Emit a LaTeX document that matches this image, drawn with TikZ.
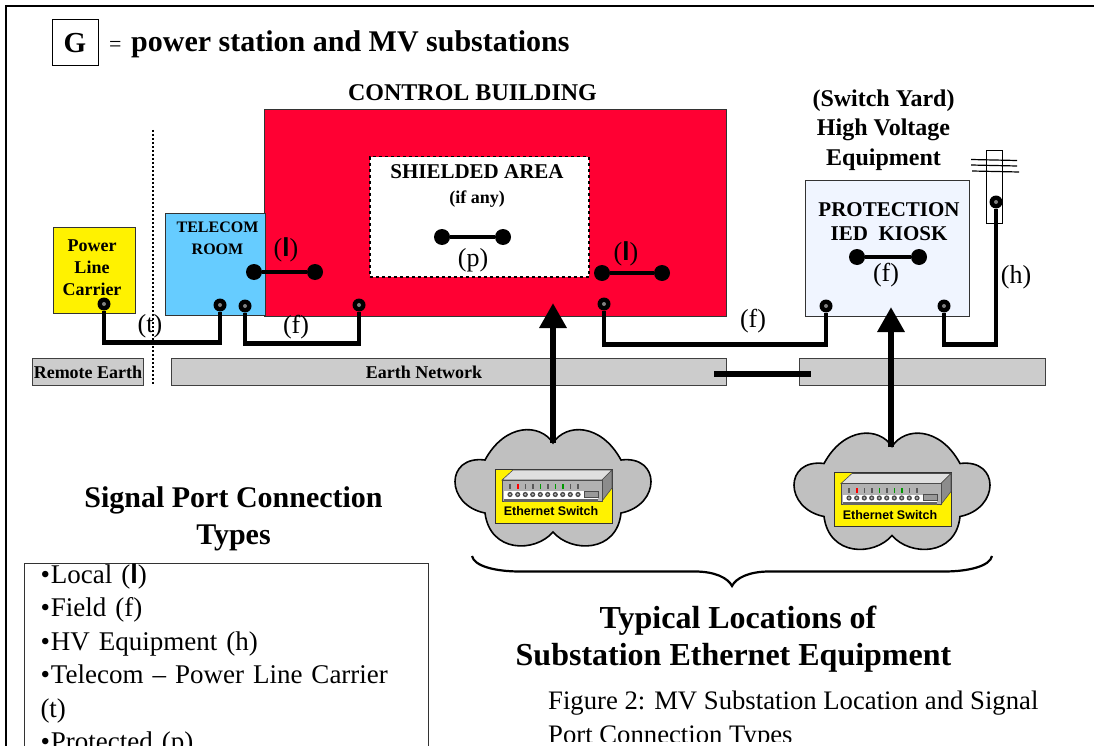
\documentclass[tikz,border=0pt]{standalone}
\usepackage{fontspec}
\setmainfont{Liberation Serif}
\setsansfont{Liberation Sans}
\usetikzlibrary{arrows.meta}
\newcommand\fsz[2]{\fontsize{#1}{#2}\selectfont}
\newcommand\boldell{{\sffamily\bfseries l}}
\definecolor{redroom}{HTML}{FF0033}
\definecolor{telecomblue}{HTML}{66CCFF}
\definecolor{kioskblue}{HTML}{F0F5FF}
\definecolor{earthgrey}{HTML}{CCCCCC}
\definecolor{cloudgrey}{HTML}{C0C0C0}
\tikzset{
  frameline/.style={draw=black,line width=2pt},
  room/.style={draw=black!80,line width=1.2pt,anchor=north west,inner sep=0pt},
  earthbar/.style={draw=black!75,fill=earthgrey,line width=1pt},
  wire/.style={line width=4.5pt,line join=miter},
  term/.style={circle,fill=black,draw=none,minimum size=13pt,inner sep=0pt,
    path picture={\fill[gray] (path picture bounding box.center) circle (2pt);}},
  dotend/.style={circle,fill=black,draw=none,minimum size=16pt,inner sep=0pt},
  bigarrow/.style={line width=6.5pt,-{Triangle[length=25pt,width=26pt]}},
  conlabel/.style={anchor=base,inner sep=0pt,font=\fsz{26}{30}},
  boldlabel/.style={anchor=base,inner sep=0pt,font=\bfseries\fsz{#1}{#1}},
}
\newcommand\cloudswitch[3]{%
\begin{scope}[shift={(#1,#2)}]
  \draw[fill=cloudgrey,line width=1.6pt,draw=black] (553,443)
    .. controls (540,423) and (505,423) .. (485,460)
    .. controls (445,455) and (445,505) .. (485,513)
    .. controls (490,553) and (535,553) .. (553,532)
    .. controls (571,553) and (617,553) .. (621,513)
    .. controls (661,505) and (661,455) .. (621,460)
    .. controls (601,423) and (566,423) .. (553,443) -- cycle;
  \fill[yellow,draw=black!80,line width=1pt] (495,469) rectangle (612,523);
  \fill[black!12,draw=black!70,line width=.6pt] (502,480) -- (513,470) -- (612,470) -- (602,480) -- cycle;
  \fill[black!45,draw=black!70,line width=.6pt] (602,480) -- (612,470) -- (612,488) -- (602,501) -- cycle;
  \fill[black!30,draw=black!70,line width=.6pt] (502,480) rectangle (602,501);
  \fill[white] (504,491) rectangle (598,498.5);
  \fill[black!60] (504,498.5) rectangle (598,501.5);
  \fill[black!40,draw=black!70,line width=.5pt] (584,491) rectangle (598,497);
  \foreach \px/\ledc in {510/black!65,517.7/red,525.3/black!65,532.7/black!65,540.3/green!60!black,547.7/black!65,555.3/green!60!black,562.7/green!60!black,570.3/black!65,578/black!65}{
    \fill[\ledc] (\px-.8,484) rectangle (\px+.8,489);
    \fill[black!70] (\px,494.5) circle (2.6pt);
    \fill[black!25] (\px,494.5) circle (1.1pt);
  }
  \node[inner sep=0pt,anchor=base,font=\sffamily\bfseries\fsz{12.5}{14}] (#3) at (551,515.5) {Ethernet Switch};
\end{scope}}
\begin{document}
\begin{tikzpicture}[x=1pt,y=-1pt]
\useasboundingbox (0,0) rectangle (1094,746);
% frame
\draw[frameline] (1094,6) -- (6,6) -- (6,746);
% title
\node[draw=black,line width=1pt,minimum width=46pt,minimum height=46pt,inner sep=0pt,font=\bfseries\fsz{29}{30}] (gbox) at (75,43) {G};
\node[anchor=base west,inner sep=0pt,font=\fsz{22}{24}] (eqsign) at (109,52) {=};
\node[anchor=base west,inner sep=0pt,font=\bfseries\fsz{30}{32}] (title) at (131,52) {power station and MV substations};
% buildings
\node[room,fill=redroom,minimum width=462pt,minimum height=207pt] (control) at (264,109) {};
\node[room,fill=telecomblue,minimum width=100pt,minimum height=102pt] (telecom) at (165,213) {};
\node[room,fill=yellow,minimum width=82pt,minimum height=86pt] (plc) at (53,227) {};
\node[draw=black,dashed,line width=1.5pt,fill=white,anchor=north west,inner sep=0pt,minimum width=219pt,minimum height=120pt] (shield) at (369,156) {};
\node[room,fill=kioskblue,minimum width=164pt,minimum height=136pt] (kiosk) at (805,180) {};
% earth bars
\node[earthbar,anchor=north west,inner sep=0pt,minimum width=111pt,minimum height=27pt] (remote) at (32,358) {};
\node[earthbar,anchor=north west,inner sep=0pt,minimum width=555pt,minimum height=27pt] (earthA) at (171,358) {};
\node[earthbar,anchor=north west,inner sep=0pt,minimum width=246pt,minimum height=27pt] (earthB) at (799,358) {};
\coordinate (bondA) at (714,374);
\coordinate (bondB) at (811,374);
\draw[line width=6pt] (bondA) -- (bondB);
\node[boldlabel=18] at (88,378) {Remote Earth};
\node[boldlabel=18] at (424,378) {Earth Network};
% pole
\node[draw=black,line width=1pt,fill=white,anchor=north west,inner sep=0pt,minimum width=16pt,minimum height=73pt] (pole) at (986,150) {};
\coordinate (ca) at (971,159.5); \coordinate (cb) at (1017,160.5);
\coordinate (cc) at (971,165); \coordinate (cd) at (1017,166);
\coordinate (ce) at (972,171); \coordinate (cf) at (1019,172);
\draw[line width=1.2pt] (ca) -- (cb) (cc) -- (cd) (ce) -- (cf);
% texts
\node[boldlabel=24] at (472.5,101) {CONTROL BUILDING};
\node[inner sep=0pt,align=center,font=\bfseries\fsz{24}{29.5}] (yard) at (883.5,130) {(Switch Yard)\\High Voltage\\Equipment};
\node[inner sep=0pt,align=center,font=\bfseries\fsz{16}{22}] (tctext) at (217.5,238) {TELECOM\\ROOM};
\node[inner sep=0pt,align=center,font=\bfseries\fsz{18}{22}] (plctext) at (92,268) {Power\\Line\hspace{5pt}\\Carrier};
\node[inner sep=0pt,align=center,font=\bfseries\fsz{21}{25}] (shtext) at (477,186) {SHIELDED AREA\\{\fsz{18}{25}(if any)}};
\node[inner sep=0pt,align=center,font=\bfseries\fsz{21}{24}] (prtext) at (889,222) {PROTECTION\\IED\ \ KIOSK};
% terminals
\node[term] (tplc) at (104,304) {};
\node[term] (ttelA) at (220,305) {};
\node[term] (ttelB) at (245,306) {};
\node[term] (tctlA) at (359,305) {};
\node[term] (tctlB) at (604,304) {};
\node[term] (tkA) at (826,306) {};
\node[term] (tkB) at (944,306) {};
\node[term] (tpole) at (996,202) {};
\draw[wire] (tplc.south) -- ++(0,32) -| (ttelA.south);
\draw[wire] (ttelB.south) -- ++(0,31) -| (tctlA.south);
\draw[wire] (tctlB.south) -- ++(0,34) -| (tkA.south);
\draw[wire] (tkB.south) -- ++(0,32) -| (tpole.south);
% local connections
\node[dotend] (la) at (254,272) {};
\node[dotend] (lb) at (315,272) {};
\node[dotend] (lc) at (602,273) {};
\node[dotend] (ld) at (662,273) {};
\node[dotend] (pa) at (442,237) {};
\node[dotend] (pb) at (503,237) {};
\node[dotend] (fa) at (857,257) {};
\node[dotend] (fb) at (919,257) {};
\draw[wire] (la) -- (lb);
\draw[wire] (lc) -- (ld);
\draw[wire] (pa) -- (pb);
\draw[wire] (fa) -- (fb);
% connection labels
\node[conlabel] at (286,256.5) {(\boldell)};
\node[conlabel] at (626,260) {(\boldell)};
\node[conlabel] at (473,266) {(p)};
\node[conlabel] at (150,332.5) {(t)};
\node[conlabel] at (296,333) {(f)};
\node[conlabel] at (753,327) {(f)};
\node[conlabel] at (886,281) {(f)};
\node[conlabel] at (1016,283) {(h)};
% demarcation
\coordinate (demA) at (153,130);
\coordinate (demB) at (153,385);
\draw[line width=1.8pt,dash pattern=on 2pt off 2pt] (demA) -- (demB);
% clouds
\cloudswitch{0}{0}{swA}
\cloudswitch{339}{3.5}{swB}
\coordinate (cloudA) at (553,443);
\coordinate (arrA) at (553,303);
\coordinate (cloudB) at (891,447);
\coordinate (arrB) at (891,307);
\draw[bigarrow] (cloudA) -- (arrA);
\draw[bigarrow] (cloudB) -- (arrB);
% brace
\coordinate (brL) at (472,556);
\coordinate (brTip) at (732,586);
\coordinate (brR) at (992,556);
\draw[line width=2.2pt] (brL) .. controls (474,566) and (495,571.5) .. (520,571.5) -- (695,571.5)
  .. controls (715,571.5) and (728,578) .. (brTip) .. controls (736,578) and (749,571.5) .. (769,571.5)
  -- (944,571.5) .. controls (969,571.5) and (990,566) .. (brR);
% headings
\node[inner sep=0pt,align=center,font=\bfseries\fsz{30}{37}] (sigtitle) at (233.5,519) {Signal Port Connection\\Types};
\node[boldlabel=32] at (738,628) {Typical Locations of};
\node[boldlabel=32] at (733.5,665) {Substation Ethernet Equipment};
% legend
\node[draw=black!80,line width=1pt,anchor=north west,minimum height=176pt,inner sep=0pt,inner xsep=16pt,text width=372pt,align=left,font=\fsz{27}{33.5}] (legend) at (24,563)
 {•\hspace{1pt}Local (\boldell)\\•\hspace{1pt}Field (f)\\•\hspace{1pt}HV Equipment (h)\\•\hspace{1pt}Telecom – Power Line Carrier (t)\\•\hspace{1pt}Protected (p)};
% caption, cut off by the page
\begin{scope}
\clip (540,680) rectangle (1094,741);
\node[anchor=base west,inner sep=0pt,align=left,font=\fsz{26.7}{34.6}] (caption) at (548,709) {Figure 2: MV Substation Location and Signal};
\node[anchor=base west,inner sep=0pt,font=\fsz{26.7}{34.6}] (captionb) at (548,743.6) {Port Connection Types};
\end{scope}
\end{tikzpicture}
\end{document}
